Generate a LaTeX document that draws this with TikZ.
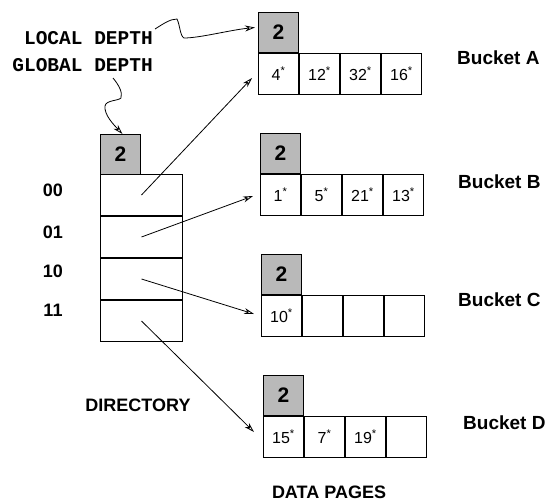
\documentclass[tikz,border=0pt]{standalone}
\usepackage{fontspec}
\setmainfont{Liberation Sans}
\newfontfamily\courfont{Liberation Mono}
\usepackage{graphicx}
\usetikzlibrary{arrows.meta}
\newcommand\nstar[1]{#1\textsuperscript{*}}
\begin{document}
\begin{tikzpicture}[x=1pt,y=-1pt,
  depthbox/.style={draw, fill=gray!55, minimum width=40pt, minimum height=40pt, inner sep=0pt,
    font=\fontsize{21}{21}\selectfont\bfseries, anchor=north west, line width=1pt},
  cellbox/.style={draw, minimum width=40pt, minimum height=41pt, inner sep=0pt,
    font=\fontsize{16}{16}\selectfont, anchor=north west, line width=1pt},
  dirbox/.style={draw, minimum width=82pt, minimum height=41pt, inner sep=0pt,
    anchor=north west, line width=1pt},
  lbl/.style={font=\fontsize{18}{18}\selectfont\bfseries, inner sep=0pt},
  blbl/.style={font=\fontsize{19}{19}\selectfont\bfseries, inner sep=0pt, anchor=west},
  cour/.style={font=\fontsize{19.5}{20}\selectfont\courfont\bfseries, inner sep=0pt, anchor=east},
  ptr/.style={-{Stealth[open,length=10pt,width=6pt]}, line width=0.8pt},
]
\useasboundingbox (0,0) rectangle (548,503);

% labels for depths
\node[cour] (ld) at (153,38) {LOCAL DEPTH};
\node[cour] (gdl) at (153,65) {GLOBAL DEPTH};

% directory
\node[depthbox] (gd) at (100,134) {2};
\node[dirbox] (r0) at (100,174) {};
\node[dirbox] (r1) at (r0.south west) {};
\node[dirbox] (r2) at (r1.south west) {};
\node[dirbox] (r3) at (r2.south west) {};
\node[lbl] (l0) at (53,190) {00};
\node[lbl] (l1) at (53,232) {01};
\node[lbl] (l2) at (53,271) {10};
\node[lbl] (l3) at (53,310) {11};
\node[lbl] (dirl) at (138,405) {DIRECTORY};

% bucket A
\node[depthbox] (dA) at (258,12) {2};
\node[cellbox] (a1) at (dA.south west) {\nstar{4}};
\node[cellbox] (a2) at (a1.north east) {\nstar{12}};
\node[cellbox] (a3) at (a2.north east) {\nstar{32}};
\node[cellbox] (a4) at (a3.north east) {\nstar{16}};
\node[blbl] (bA) at (457,58) {Bucket A};

% bucket B
\node[depthbox] (dB) at (260,133) {2};
\node[cellbox] (b1) at (dB.south west) {\nstar{1}};
\node[cellbox] (b2) at (b1.north east) {\nstar{5}};
\node[cellbox] (b3) at (b2.north east) {\nstar{21}};
\node[cellbox] (b4) at (b3.north east) {\nstar{13}};
\node[blbl] (bB) at (458,182) {Bucket B};

% bucket C
\node[depthbox] (dC) at (261,254) {2};
\node[cellbox] (c1) at (dC.south west) {\nstar{10}};
\node[cellbox] (c2) at (c1.north east) {};
\node[cellbox] (c3) at (c2.north east) {};
\node[cellbox] (c4) at (c3.north east) {};
\node[blbl] (bC) at (458,300) {Bucket C};

% bucket D
\node[depthbox] (dD) at (263,375) {2};
\node[cellbox] (d1) at (dD.south west) {\nstar{15}};
\node[cellbox] (d2) at (d1.north east) {\nstar{7}};
\node[cellbox] (d3) at (d2.north east) {\nstar{19}};
\node[cellbox] (d4) at (d3.north east) {};
\node[blbl] (bD) at (463,423) {Bucket D};

\node[lbl] (dpl) at (329,492) {DATA PAGES};

% pointers
\draw[ptr] (r0.center) -- ([shift={(-6,4)}]a1.west);
\draw[ptr] (r1.center) -- ([shift={(-7,1)}]b1.west);
\draw[ptr] (r2.center) -- ([shift={(-7,-2)}]c1.west);
\draw[ptr] (r3.center) -- ([shift={(-9,-5)}]d1.west);

% squiggly arrows
\coordinate (ls) at (155,29);
\draw[ptr] (ls) .. controls (163,24) and (170,19) .. (177,19)
  .. controls (180,25) and (180,36) .. (184,38)
  .. controls (200,38) and (230,30) .. ([shift={(-3,-5)}]dA.west);
\coordinate (gs) at (113,78);
\draw[ptr] (gs) .. controls (118,84) and (123,92) .. (121,98)
  .. controls (118,101) and (106,100) .. (105,106)
  .. controls (104,115) and (114,125) .. ([xshift=2pt]gd.north);
\end{tikzpicture}
\end{document}
